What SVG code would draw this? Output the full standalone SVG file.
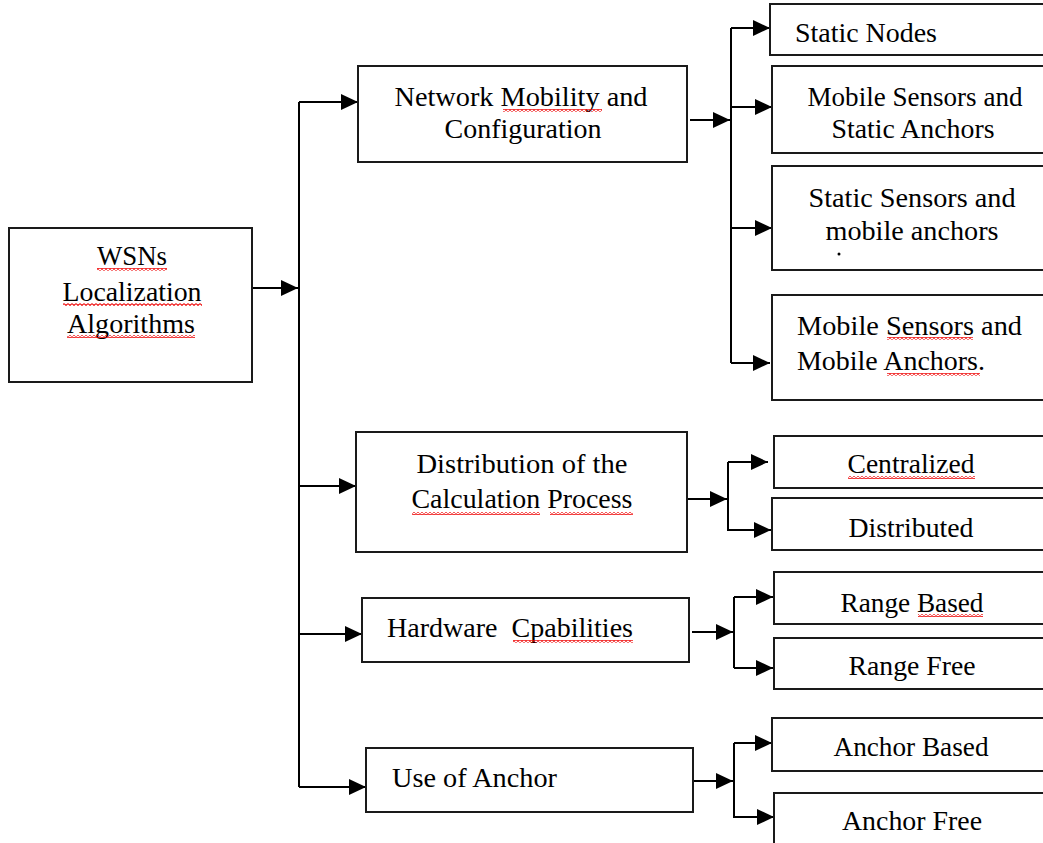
<svg xmlns="http://www.w3.org/2000/svg" width="1043" height="843" viewBox="0 0 1043 843">
<defs>
<style>
.box{fill:#fff;stroke:#1a1a1a;stroke-width:2}
.t{font-family:"Liberation Serif","Times New Roman",serif;font-size:27px;fill:#000}
.c{text-anchor:middle}
.ln{fill:none;stroke:#000;stroke-width:2}
.sq{fill:url(#wavy)}
</style>
<marker id="ah" markerUnits="userSpaceOnUse" markerWidth="17" markerHeight="16" refX="17" refY="8" orient="auto">
<path d="M0,0 L17,8 L0,16 z" fill="#000"/>
</marker>
<pattern id="wavy" width="4" height="3" patternUnits="userSpaceOnUse">
<path d="M0,0.6 L2,2.4 L4,0.6" fill="none" stroke="#e00" stroke-width="1.1"/>
</pattern>
</defs>
<rect width="1043" height="843" fill="#fff"/>

<g id="connectors">
<path class="ln" d="M252,288 H298" marker-end="url(#ah)"/>
<path class="ln" d="M299,102 V787"/>
<path class="ln" d="M299,102 H358" marker-end="url(#ah)"/>
<path class="ln" d="M299,486 H356" marker-end="url(#ah)"/>
<path class="ln" d="M299,634 H362" marker-end="url(#ah)"/>
<path class="ln" d="M299,787 H366" marker-end="url(#ah)"/>

<path class="ln" d="M690,120 H730" marker-end="url(#ah)"/>
<path class="ln" d="M731,28 V363"/>
<path class="ln" d="M731,28 H770" marker-end="url(#ah)"/>
<path class="ln" d="M731,107 H772" marker-end="url(#ah)"/>
<path class="ln" d="M731,228 H772" marker-end="url(#ah)"/>
<path class="ln" d="M731,363 H770" marker-end="url(#ah)"/>

<path class="ln" d="M687,499 H727" marker-end="url(#ah)"/>
<path class="ln" d="M728,462 V531"/>
<path class="ln" d="M728,462 H768" marker-end="url(#ah)"/>
<path class="ln" d="M728,530 H771" marker-end="url(#ah)"/>

<path class="ln" d="M692,632 H733" marker-end="url(#ah)"/>
<path class="ln" d="M734,597 V668"/>
<path class="ln" d="M734,597 H773" marker-end="url(#ah)"/>
<path class="ln" d="M734,668 H773" marker-end="url(#ah)"/>

<path class="ln" d="M693,781 H733" marker-end="url(#ah)"/>
<path class="ln" d="M734,743 V818"/>
<path class="ln" d="M734,743 H772" marker-end="url(#ah)"/>
<path class="ln" d="M734,817 H774" marker-end="url(#ah)"/>
</g>

<g id="root">
<rect class="box" x="9" y="228" width="243" height="154"/>
<text class="t c" x="132" y="265" textLength="70" lengthAdjust="spacingAndGlyphs">WSNs</text>
<text class="t c" x="132" y="301" textLength="139" lengthAdjust="spacingAndGlyphs">Localization</text>
<text class="t c" x="131" y="333" textLength="128" lengthAdjust="spacingAndGlyphs">Algorithms</text>
<rect class="sq" x="97" y="268" width="70" height="3"/>
<rect class="sq" x="63" y="303" width="139" height="3"/>
<rect class="sq" x="67" y="335" width="128" height="3"/>
</g>

<g id="network-mobility">
<rect class="box" x="358" y="66" width="329" height="96"/>
<text class="t c" x="521" y="106" textLength="253" lengthAdjust="spacingAndGlyphs">Network Mobility and</text>
<text class="t c" x="523" y="138" textLength="157" lengthAdjust="spacingAndGlyphs">Configuration</text>
<rect class="sq" x="503" y="109" width="99" height="3"/>
</g>

<g id="distribution">
<rect class="box" x="356" y="432" width="331" height="120"/>
<text class="t c" x="522" y="473" textLength="211" lengthAdjust="spacingAndGlyphs">Distribution of the</text>
<text class="t c" x="522" y="508" textLength="221" lengthAdjust="spacingAndGlyphs">Calculation Process</text>
<rect class="sq" x="412" y="512" width="128" height="3"/>
<rect class="sq" x="550" y="512" width="83" height="3"/>
</g>

<g id="hardware">
<rect class="box" x="362" y="598" width="327" height="64"/>
<text class="t" x="387" y="637" textLength="246" lengthAdjust="spacingAndGlyphs" xml:space="preserve">Hardware  Cpabilities</text>
<rect class="sq" x="513" y="640" width="120" height="3"/>
</g>

<g id="use-of-anchor">
<rect class="box" x="366" y="748" width="327" height="64"/>
<text class="t" x="392" y="787" textLength="165" lengthAdjust="spacingAndGlyphs">Use of Anchor</text>
</g>

<g id="static-nodes">
<rect class="box" x="770" y="4" width="290" height="51"/>
<text class="t" x="795" y="42" textLength="142" lengthAdjust="spacingAndGlyphs">Static Nodes</text>
</g>

<g id="mobile-sensors-static-anchors">
<rect class="box" x="772" y="66" width="290" height="87"/>
<text class="t c" x="915" y="106" textLength="215" lengthAdjust="spacingAndGlyphs">Mobile Sensors and</text>
<text class="t c" x="913" y="138" textLength="163" lengthAdjust="spacingAndGlyphs">Static Anchors</text>
</g>

<g id="static-sensors-mobile-anchors">
<rect class="box" x="772" y="166" width="290" height="104"/>
<text class="t c" x="912" y="207" textLength="207" lengthAdjust="spacingAndGlyphs">Static Sensors and</text>
<text class="t c" x="912" y="240" textLength="173" lengthAdjust="spacingAndGlyphs">mobile anchors</text>
<circle cx="839" cy="254" r="1.5" fill="#000"/>
</g>

<g id="mobile-sensors-mobile-anchors">
<rect class="box" x="772" y="295" width="290" height="105"/>
<text class="t" x="797" y="335" textLength="225" lengthAdjust="spacingAndGlyphs">Mobile Sensors and</text>
<text class="t" x="797" y="370" textLength="188" lengthAdjust="spacingAndGlyphs">Mobile Anchors.</text>
<rect class="sq" x="887" y="337" width="86" height="3"/>
<rect class="sq" x="887" y="373" width="93" height="3"/>
</g>

<g id="centralized">
<rect class="box" x="774" y="436" width="290" height="52"/>
<text class="t c" x="911" y="473" textLength="127" lengthAdjust="spacingAndGlyphs">Centralized</text>
<rect class="sq" x="848" y="476" width="127" height="3"/>
</g>

<g id="distributed">
<rect class="box" x="772" y="498" width="290" height="52"/>
<text class="t c" x="911" y="537" textLength="125" lengthAdjust="spacingAndGlyphs">Distributed</text>
</g>

<g id="range-based">
<rect class="box" x="774" y="572" width="290" height="52"/>
<text class="t c" x="912" y="612" textLength="143" lengthAdjust="spacingAndGlyphs">Range Based</text>
<rect class="sq" x="918" y="614" width="65" height="3"/>
</g>

<g id="range-free">
<rect class="box" x="774" y="638" width="290" height="51"/>
<text class="t c" x="912" y="675" textLength="127" lengthAdjust="spacingAndGlyphs">Range Free</text>
</g>

<g id="anchor-based">
<rect class="box" x="772" y="718" width="290" height="53"/>
<text class="t c" x="911" y="756" textLength="155" lengthAdjust="spacingAndGlyphs">Anchor Based</text>
</g>

<g id="anchor-free">
<rect class="box" x="774" y="793" width="290" height="70"/>
<text class="t c" x="912" y="830" textLength="140" lengthAdjust="spacingAndGlyphs">Anchor Free</text>
</g>
</svg>
